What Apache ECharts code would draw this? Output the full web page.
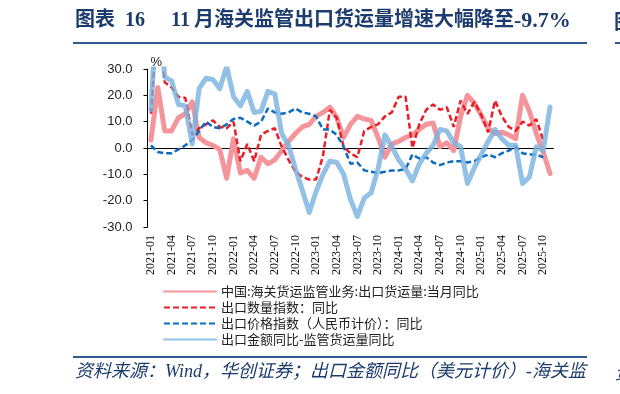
<!DOCTYPE html>
<html>
<head>
<meta charset="utf-8">
<title>11月海关监管出口货运量增速大幅降至-9.7%</title>
<script src="https://cdn.jsdelivr.net/npm/echarts@6/dist/echarts.min.js"></script>
<style>
  html, body { margin: 0; padding: 0; background: #fff; }
  #main { width: 620px; height: 394px; }
</style>
</head>
<body>
<div id="main"></div>
<script>
// 月份（2021-01 ~ 2025-11）
var months = [
  '2021-01','2021-02','2021-03','2021-04','2021-05','2021-06','2021-07','2021-08','2021-09','2021-10','2021-11','2021-12',
  '2022-01','2022-02','2022-03','2022-04','2022-05','2022-06','2022-07','2022-08','2022-09','2022-10','2022-11','2022-12',
  '2023-01','2023-02','2023-03','2023-04','2023-05','2023-06','2023-07','2023-08','2023-09','2023-10','2023-11','2023-12',
  '2024-01','2024-02','2024-03','2024-04','2024-05','2024-06','2024-07','2024-08','2024-09','2024-10','2024-11','2024-12',
  '2025-01','2025-02','2025-03','2025-04','2025-05','2025-06','2025-07','2025-08','2025-09','2025-10','2025-11'
];
// 中国:海关货运监管业务:出口货运量:当月同比
var huoyunliang = [3, 23, 6.5, 6.5, 11.5, 13, 17.5, 4, 2, 1, -0.5, -11.5,
  3.5, -9.5, -8.5, -11.5, -3.5, -6, -4.5, -1, 2.5, 5.5, 8, 9,
  12, 13.5, 15.5, 11.5, 4, 9, 12, 11, 10.5, 4, -3.5, 1.5,
  2.5, 4, 5, 7, 9, 9.5, 0.5, 2, -1, 12, 20, 17,
  12.5, 7.5, 5.5, 6, 5, 3.5, 20, 14, 5.5, -1.5, -9.7];
// 出口数量指数：同比
var shuliang = [13, 50, 25, 23, 19.5, 19, 5, 7.5, 9, 10.5, 8, 7.5,
  10, -5, 1.5, -5, 5, 6.5, 7.5, 0.5, -4.5, -9, -11, -12,
  -12, -3, 14.5, 11.5, 0.5, -2, -3.5, 6.5, 8, 9, 12, 13.5,
  19.5, 19.5, 0, 9, 14.5, 16.5, 14.5, 15.5, 8, 18, 13, 17.5,
  12.5, 6, 18, 12, 8, 6.5, 10, 8.5, 11, 3, null];
// 出口价格指数（人民币计价）：同比
var jiage = [1, -1.5, -2, -2, -0.5, 1, 3, 6.5, 10, 8, 7.5, 9,
  11, 11.5, 10, 8.5, 10, 15, 13.5, 13, 13.5, 15, 13.5, 13,
  12, 7, 7, 5, 0.5, -6, -5.5, -8.5, -9, -9.5, -9, -8.5,
  -8.5, -8, -2.5, -4, -3.5, -5.5, -6.5, -5.5, -5, -5, -5.5, -5,
  -3.5, -2.5, -3.5, -2, -1, 0.5, -2, -2.5, -2.5, -3.5, null];
// 出口金额同比-监管货运量同比
var chazhi = [14.5, 60, 27, 25.5, 16.5, 16, 1.5, 22.5, 26.5, 26, 22.5, 31,
  19.5, 16, 21.5, 13.5, 14, 21.5, 20.5, 5.5, 1, -8, -16, -24.5,
  -16.5, -10, -5, -5.5, -10, -19.5, -26, -19, -17, -8, 5, 0.5,
  -4.5, -8, -12.5, -6, -2, 1, 7, 6.5, 2, 0.5, -13.5, -7.5,
  -2.5, 2.5, 7, 3.5, 1, 1, -13.5, -11, 0.5, -1, 15.6];

var names = [
  '中国:海关货运监管业务:出口货运量:当月同比',
  '出口数量指数：同比',
  '出口价格指数（人民币计价）：同比',
  '出口金额同比-监管货运量同比'
];

var titleColor = '#1d3c6e';
var ruleColor = '#2f5b8f';
var titleFont = 'bold 20px "Liberation Serif", "Noto Sans CJK SC"';

var chart = echarts.init(document.getElementById('main'));
var option = {
  backgroundColor: '#fff',
  animation: false,
  grid: { left: 147.5, right: 66.5, top: 69, bottom: 167 },
  legend: {
    orient: 'vertical',
    left: 163,
    top: 285,
    padding: 0,
    itemWidth: 52,
    itemHeight: 14,
    itemGap: 3,
    itemStyle: { opacity: 0 },
    textStyle: { fontSize: 13, color: '#222', fontFamily: 'Noto Sans CJK SC' },
    data: names
  },
  xAxis: [{
    type: 'category',
    data: months,
    boundaryGap: true,
    axisLine: { onZero: true, lineStyle: { color: '#000', width: 1 } },
    axisTick: { interval: 2, length: 4, lineStyle: { color: '#000' } },
    axisLabel: { show: false },
    splitLine: { show: false }
  }, {
    type: 'category',
    data: months,
    position: 'bottom',
    boundaryGap: true,
    axisLine: { show: false, onZero: false },
    axisTick: { show: false },
    axisLabel: {
      interval: 2, rotate: 90, margin: 8,
      fontSize: 12, color: '#111', fontFamily: 'Liberation Serif'
    }
  }],
  yAxis: {
    type: 'value',
    min: -30, max: 30, interval: 10,
    name: '%',
    nameLocation: 'end',
    nameGap: 0,
    nameTextStyle: { fontSize: 13, color: '#222', align: 'left', padding: [0, 0, 0, 3], fontFamily: 'Liberation Sans' },
    axisLine: { show: true, lineStyle: { color: '#000', width: 1 } },
    axisTick: { show: true, length: 4, lineStyle: { color: '#000' } },
    axisLabel: {
      margin: 15, fontSize: 13, color: '#222', fontFamily: 'Liberation Sans',
      formatter: function (v) { return v.toFixed(1); }
    },
    splitLine: { show: false }
  },
  series: [{
    name: names[0], type: 'line', data: huoyunliang, symbol: 'none',
    lineStyle: { color: '#f4959b', width: 5, cap: 'round', join: 'round' },
    itemStyle: { color: '#f4959b' }
  }, {
    name: names[1], type: 'line', data: shuliang, symbol: 'none',
    lineStyle: { color: '#ec1c24', width: 2.5, type: [6, 3] },
    itemStyle: { color: '#ec1c24' }
  }, {
    name: names[2], type: 'line', data: jiage, symbol: 'none',
    lineStyle: { color: '#0a6cc0', width: 2.5, type: [6, 3] },
    itemStyle: { color: '#0a6cc0' }
  }, {
    name: names[3], type: 'line', data: chazhi, symbol: 'none',
    lineStyle: { color: '#78b2df', width: 5, opacity: 0.8, cap: 'round', join: 'round' },
    itemStyle: { color: '#78b2df' }
  }],
  graphic: [
    // 标题
    { type: 'text', left: 75, top: 11, style: { text: '图表  16', fill: titleColor, font: titleFont } },
    { type: 'text', left: 171, top: 11, style: { text: '11', fill: titleColor, font: titleFont } },
    { type: 'text', left: 194, top: 11, style: { text: '月海关监管出口货运量增速大幅降至', fill: titleColor, font: titleFont } },
    { type: 'text', left: 514, top: 10, style: { text: '-9.7%', fill: titleColor, font: 'bold 22px "Liberation Serif"' } },
    { type: 'line', shape: { x1: 73, y1: 43, x2: 587, y2: 43 }, style: { stroke: ruleColor, lineWidth: 2 } },
    // 右侧相邻图表的边缘
    { type: 'text', left: 614, top: 11, style: { text: '图', fill: titleColor, font: 'bold 20px "Noto Sans CJK SC"' } },
    { type: 'line', shape: { x1: 615, y1: 43, x2: 620, y2: 43 }, style: { stroke: ruleColor, lineWidth: 2 } },
    // 资料来源
    { type: 'line', shape: { x1: 73, y1: 357, x2: 587, y2: 357 }, style: { stroke: ruleColor, lineWidth: 2 } },
    { type: 'text', left: 75, top: 363,
      style: { text: '资料来源：Wind，华创证券；出口金额同比（美元计价）-海关监', fill: titleColor,
               font: 'italic 18px "Liberation Serif", "Noto Sans CJK SC"' } },
    { type: 'text', left: 615, top: 363,
      style: { text: '资', fill: titleColor, font: 'italic 18px "Noto Sans CJK SC"' } }
  ]
};
chart.setOption(option);
</script>
</body>
</html>
